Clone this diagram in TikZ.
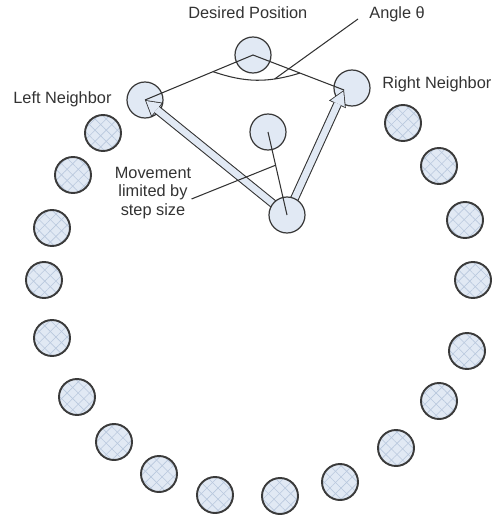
\documentclass[tikz,border=0pt]{standalone}
\usepackage{fontspec}
\setmainfont{Liberation Sans}
\usetikzlibrary{arrows.meta,calc,patterns.meta}
\definecolor{botfill}{HTML}{E1E9F4}
\definecolor{hatch}{HTML}{B9C8DD}
\definecolor{rim}{HTML}{3A3A3A}
\definecolor{ink}{HTML}{333333}
\tikzset{
  robot/.style={circle, draw=rim, line width=1.1pt, minimum size=7.2mm, inner sep=0pt,
    preaction={fill=botfill},
    preaction={pattern={Lines[angle=45,distance=4.5pt,line width=.35pt]}, pattern color=hatch},
    preaction={pattern={Lines[angle=-45,distance=4.5pt,line width=.35pt]}, pattern color=hatch}},
  keybot/.style={circle, draw=rim, line width=.7pt, fill=botfill, minimum size=7.2mm, inner sep=0pt},
  lbl/.style={text=ink, font=\fontsize{9.3}{10.5}\selectfont, inner sep=0pt},
  leader/.style={draw=ink, line width=.6pt},
  arrout/.style={draw=ink, line width=5pt, -{Triangle[length=9pt,width=10.5pt,line width=0pt]}},
  arrin/.style={draw=botfill, line width=3.8pt, shorten >=.9pt, -{Triangle[length=7.6pt,width=8.8pt,line width=0pt]}}
}

\begin{document}
\begin{tikzpicture}[x=.2mm, y=-.2mm]
  \useasboundingbox (0,0) rectangle (492,516);

  % the ring
  \node[robot] (r1) at (103,133) {};
  \node[robot] (r2) at (73,175) {};
  \node[robot] (r3) at (52,228) {};
  \node[robot] (r4) at (44,280) {};
  \node[robot] (r5) at (52,338) {};
  \node[robot] (r6) at (77,397) {};
  \node[robot] (r7) at (114,442) {};
  \node[robot] (r8) at (159,474) {};
  \node[robot] (r9) at (215,495) {};
  \node[robot] (r10) at (280,496) {};
  \node[robot] (r11) at (340,482) {};
  \node[robot] (r12) at (396,448) {};
  \node[robot] (r13) at (439,401) {};
  \node[robot] (r14) at (467,351) {};
  \node[robot] (r15) at (473,280) {};
  \node[robot] (r16) at (465,220) {};
  \node[robot] (r17) at (439,166) {};
  \node[robot] (r18) at (403,123) {};

  \node[keybot] (ln) at (145,100) {};
  \node[keybot] (dp) at (253,55) {};
  \node[keybot] (rn) at (352,88) {};
  \node[keybot] (mid) at (268,132) {};
  \coordinate (c0) at (287,215);
  \coordinate (rtip) at (344,90);

  \draw[leader] (ln.center) -- (dp.center) -- (rtip);
  \draw[arrout] (c0) -- (ln.center);
  \draw[arrin] (c0) -- (ln.center);
  \draw[arrout] (c0) -- (rtip);
  \draw[arrin] (c0) -- (rtip);
  \node[keybot] (cur) at (c0) {};
  \draw[leader] (mid.center) -- (cur.center);

  % angle between the neighbours
  \draw[leader] ($(ln)!.63!(dp)$) to[bend right=18] coordinate[pos=.72] (ap) ($(dp)!.516!(rtip)$);

  \node[lbl, anchor=base west] (des) at (188,19) {Desired Position};
  \node[lbl, anchor=base west] (ang) at (369,19) {Angle θ};
  \node[lbl, anchor=base west] (rnl) at (382,88) {Right Neighbor};
  \node[lbl, anchor=base west] (lnl) at (13,103) {Left Neighbor};
  \node[lbl, align=center] (mv) at (153,193) {Movement\\limited by\\step size};
  \draw[leader] ([xshift=-2.2mm]ang.base west) -- (ap);
  \draw[leader] ([yshift=-1.2mm]mv.east) -- ($(mid)!.4!(cur)$);
\end{tikzpicture}
\end{document}
